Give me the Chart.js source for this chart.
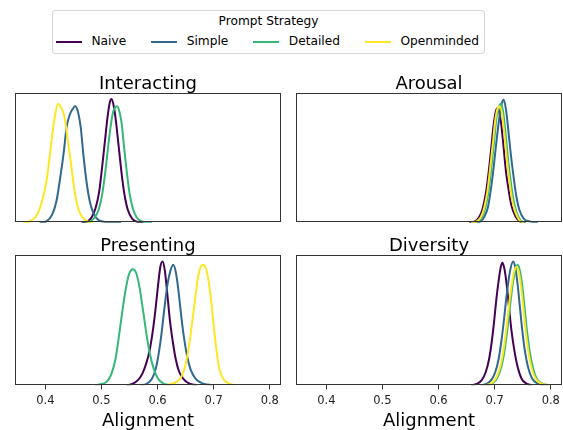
<!DOCTYPE html>
<html lang="en">
<head>
<meta charset="UTF-8">
<title>Alignment by Prompt Strategy</title>
<script src="https://cdn.jsdelivr.net/npm/chart.js"></script>
<style>
    body {
        margin: 0;
        background: #fff;
        font-family: "DejaVu Sans", sans-serif;
    }
    #wrap {
        position: relative;
        width: 563px;
        height: 430px;
        overflow: hidden;
    }
    canvas {
        position: absolute;
    }
    .legend {
        position: absolute;
        left: 52px;
        top: 10px;
        width: 431px;
        height: 42px;
        border: 1px solid #d6d6d6;
        border-radius: 3px;
        font-size: 12.2px;
        color: #000;
    }
    .legend-title {
        position: absolute;
        left: 0;
        right: 0;
        top: 3px;
        line-height: 15px;
        text-align: center;
    }
    .legend-items {
        position: absolute;
        left: 3px;
        top: 23px;
        display: flex;
        gap: 25px;
        line-height: 15px;
    }
    .item {
        display: flex;
        align-items: center;
    }
    .swatch {
        width: 26px;
        height: 2px;
        margin-right: 9.5px;
    }
</style>
</head>
<body>
<div id="wrap">
    <div class="legend">
        <div class="legend-title">Prompt Strategy</div>
        <div class="legend-items" id="legend-items"></div>
    </div>
    <canvas id="c-interacting" width="276" height="158" style="left:10px; top:70px"></canvas>
    <canvas id="c-arousal" width="276" height="158" style="left:291px; top:70px"></canvas>
    <canvas id="c-presenting" width="276" height="198" style="left:10px; top:232px"></canvas>
    <canvas id="c-diversity" width="276" height="198" style="left:291px; top:232px"></canvas>
</div>

<script>
    const strategies = ["Naive", "Simple", "Detailed", "Openminded"];
    const colors = ["#440154", "#31688e", "#35b779", "#fde725"];
    const xTicks = [0.4, 0.5, 0.6, 0.7, 0.8];
    const xMin = 0.346, xMax = 0.82;

    // density curves, [alignment, height as share of panel]
    const interactingNaive = [[0.465,0],[0.475,0.01],[0.483,0.045],[0.490,0.12],[0.496,0.24],[0.501,0.42],[0.506,0.62],[0.511,0.82],[0.515,0.93],[0.518,0.955],[0.522,0.90],[0.526,0.78],[0.531,0.58],[0.536,0.38],[0.541,0.22],[0.547,0.10],[0.555,0.03],[0.565,0.005],[0.575,0]];
    const interactingSimple = [[0.390,0],[0.402,0.01],[0.412,0.06],[0.420,0.17],[0.427,0.36],[0.433,0.55],[0.438,0.74],[0.444,0.84],[0.449,0.88],[0.453,0.90],[0.458,0.86],[0.463,0.74],[0.468,0.52],[0.473,0.33],[0.479,0.17],[0.486,0.07],[0.495,0.02],[0.510,0.005],[0.535,0]];
    const interactingDetailed = [[0.470,0],[0.480,0.01],[0.488,0.04],[0.495,0.10],[0.501,0.21],[0.506,0.36],[0.511,0.55],[0.516,0.73],[0.520,0.84],[0.524,0.89],[0.528,0.90],[0.532,0.86],[0.536,0.77],[0.540,0.60],[0.545,0.40],[0.550,0.23],[0.556,0.11],[0.563,0.04],[0.572,0.01],[0.590,0]];
    const interactingOpen = [[0.360,0],[0.372,0.01],[0.385,0.06],[0.395,0.18],[0.402,0.32],[0.408,0.52],[0.413,0.70],[0.418,0.85],[0.423,0.92],[0.428,0.89],[0.434,0.82],[0.440,0.64],[0.446,0.45],[0.452,0.25],[0.458,0.12],[0.465,0.05],[0.475,0.01],[0.485,0]];

    const arousalNaive = [[0.655,0],[0.665,0.01],[0.672,0.04],[0.678,0.10],[0.684,0.22],[0.689,0.38],[0.694,0.58],[0.698,0.75],[0.702,0.86],[0.705,0.885],[0.708,0.86],[0.712,0.75],[0.716,0.58],[0.720,0.40],[0.725,0.25],[0.730,0.13],[0.737,0.05],[0.745,0.01],[0.755,0]];
    const arousalSimple = [[0.665,0],[0.675,0.01],[0.682,0.05],[0.688,0.12],[0.693,0.25],[0.698,0.42],[0.703,0.62],[0.708,0.80],[0.712,0.91],[0.716,0.95],[0.720,0.88],[0.724,0.73],[0.728,0.56],[0.733,0.38],[0.738,0.22],[0.744,0.10],[0.752,0.03],[0.762,0.01],[0.777,0]];
    const arousalDetailed = [[0.660,0],[0.670,0.01],[0.677,0.04],[0.683,0.11],[0.689,0.24],[0.694,0.42],[0.699,0.63],[0.703,0.80],[0.707,0.89],[0.711,0.92],[0.715,0.86],[0.719,0.71],[0.723,0.53],[0.728,0.34],[0.733,0.19],[0.739,0.08],[0.746,0.02],[0.755,0]];
    const arousalOpen = [[0.658,0],[0.668,0.01],[0.675,0.04],[0.681,0.11],[0.687,0.24],[0.692,0.42],[0.697,0.62],[0.701,0.79],[0.705,0.88],[0.709,0.90],[0.713,0.85],[0.717,0.70],[0.721,0.52],[0.726,0.33],[0.731,0.18],[0.737,0.08],[0.744,0.02],[0.752,0]];

    const presentingNaive = [[0.545,0],[0.555,0.01],[0.565,0.04],[0.573,0.09],[0.580,0.17],[0.586,0.27],[0.591,0.40],[0.596,0.57],[0.601,0.77],[0.605,0.91],[0.609,0.95],[0.613,0.88],[0.617,0.72],[0.622,0.50],[0.627,0.34],[0.632,0.21],[0.638,0.11],[0.646,0.05],[0.656,0.015],[0.670,0]];
    const presentingSimple = [[0.570,0],[0.580,0.01],[0.590,0.05],[0.597,0.13],[0.603,0.27],[0.608,0.43],[0.613,0.62],[0.618,0.78],[0.623,0.88],[0.628,0.925],[0.632,0.88],[0.636,0.77],[0.641,0.58],[0.646,0.40],[0.652,0.24],[0.659,0.12],[0.668,0.05],[0.680,0.015],[0.698,0]];
    const presentingDetailed = [[0.488,0],[0.500,0.01],[0.510,0.03],[0.518,0.09],[0.525,0.20],[0.531,0.37],[0.537,0.56],[0.543,0.73],[0.549,0.85],[0.556,0.89],[0.562,0.86],[0.568,0.75],[0.574,0.58],[0.580,0.40],[0.586,0.25],[0.593,0.13],[0.601,0.05],[0.610,0.015],[0.622,0]];
    const presentingOpen = [[0.612,0],[0.625,0.01],[0.635,0.03],[0.643,0.07],[0.650,0.16],[0.656,0.30],[0.661,0.46],[0.666,0.63],[0.671,0.80],[0.676,0.90],[0.681,0.925],[0.686,0.90],[0.691,0.80],[0.696,0.63],[0.700,0.46],[0.705,0.27],[0.710,0.13],[0.717,0.05],[0.726,0.015],[0.738,0]];

    const diversityNaive = [[0.658,0],[0.668,0.01],[0.677,0.04],[0.684,0.10],[0.690,0.20],[0.695,0.34],[0.699,0.49],[0.703,0.66],[0.707,0.80],[0.711,0.91],[0.714,0.94],[0.718,0.88],[0.722,0.75],[0.726,0.58],[0.730,0.42],[0.735,0.27],[0.741,0.14],[0.748,0.05],[0.756,0.015],[0.766,0]];
    const diversitySimple = [[0.675,0],[0.685,0.01],[0.694,0.04],[0.701,0.10],[0.707,0.20],[0.712,0.34],[0.716,0.48],[0.720,0.64],[0.724,0.78],[0.728,0.89],[0.733,0.95],[0.737,0.90],[0.741,0.77],[0.745,0.60],[0.749,0.43],[0.754,0.26],[0.760,0.13],[0.767,0.05],[0.776,0.015],[0.787,0]];
    const diversityDetailed = [[0.684,0],[0.694,0.01],[0.702,0.04],[0.709,0.10],[0.715,0.20],[0.720,0.34],[0.724,0.48],[0.728,0.63],[0.732,0.77],[0.736,0.87],[0.741,0.925],[0.745,0.88],[0.749,0.77],[0.753,0.61],[0.757,0.44],[0.762,0.27],[0.768,0.14],[0.775,0.05],[0.784,0.015],[0.797,0]];
    const diversityOpen = [[0.682,0],[0.692,0.01],[0.700,0.04],[0.707,0.10],[0.713,0.20],[0.718,0.34],[0.722,0.48],[0.726,0.63],[0.730,0.76],[0.734,0.86],[0.739,0.91],[0.743,0.87],[0.747,0.76],[0.751,0.60],[0.755,0.43],[0.760,0.26],[0.766,0.13],[0.773,0.05],[0.782,0.015],[0.795,0]];

    Chart.defaults.font.family = "'DejaVu Sans', sans-serif";
    Chart.defaults.animation = false;

    // box around the plot area, like matplotlib spines
    const frame = {
        id: "frame",
        afterDatasetsDraw(chart) {
            const { ctx, chartArea: a } = chart;
            ctx.save();
            ctx.strokeStyle = "#333";
            ctx.lineWidth = 1;
            ctx.strokeRect(Math.round(a.left) + 0.5, Math.round(a.top) + 0.5,
                Math.round(a.right - a.left) - 1, Math.round(a.bottom - a.top) - 1);
            ctx.restore();
        }
    };

    function makeChart(id, title, series, showX) {
        return new Chart(document.getElementById(id), {
            type: "line",
            data: {
                datasets: series.map((pts, i) => ({
                    label: strategies[i],
                    data: pts.map(p => ({ x: p[0], y: p[1] })),
                    borderColor: colors[i],
                    borderWidth: 2,
                    pointRadius: 0,
                    fill: false,
                    cubicInterpolationMode: "monotone",
                    order: strategies.length - i
                }))
            },
            options: {
                responsive: false,
                events: [],
                layout: {
                    padding: showX ? { left: 5, right: 5, top: 5, bottom: 0 }
                                   : { left: 5, right: 5, top: 5.3, bottom: 5.3 }
                },
                plugins: {
                    legend: { display: false },
                    tooltip: { enabled: false },
                    title: {
                        display: true,
                        text: title,
                        color: "#000",
                        font: { size: 18, weight: "normal", lineHeight: 1 },
                        padding: 0
                    }
                },
                scales: {
                    x: {
                        type: "linear",
                        min: xMin,
                        max: xMax,
                        display: showX,
                        afterBuildTicks: s => { s.ticks = xTicks.map(v => ({ value: v })); },
                        afterFit: s => { if (showX) s.height = 44.7; },
                        ticks: {
                            color: "#222",
                            font: { size: 11.5 },
                            padding: 5,
                            maxRotation: 0,
                            callback: v => v.toFixed(1)
                        },
                        grid: {
                            display: true,
                            drawOnChartArea: false,
                            drawTicks: true,
                            tickLength: 4,
                            color: "#333"
                        },
                        border: { display: false },
                        title: {
                            display: true,
                            text: "Alignment",
                            color: "#000",
                            font: { size: 18, lineHeight: 1 },
                            padding: 0
                        }
                    },
                    y: { min: 0, max: 1, display: false }
                }
            },
            plugins: [frame]
        });
    }

    makeChart("c-interacting", "Interacting", [interactingNaive, interactingSimple, interactingDetailed, interactingOpen], false);
    makeChart("c-arousal", "Arousal", [arousalNaive, arousalSimple, arousalDetailed, arousalOpen], false);
    makeChart("c-presenting", "Presenting", [presentingNaive, presentingSimple, presentingDetailed, presentingOpen], true);
    makeChart("c-diversity", "Diversity", [diversityNaive, diversitySimple, diversityDetailed, diversityOpen], true);

    // shared legend
    const legendBox = document.getElementById("legend-items");
    strategies.forEach((name, i) => {
        const item = document.createElement("div");
        item.className = "item";
        item.innerHTML = `<span class="swatch" style="background:${colors[i]}"></span><span>${name}</span>`;
        legendBox.appendChild(item);
    });
</script>
</body>
</html>
